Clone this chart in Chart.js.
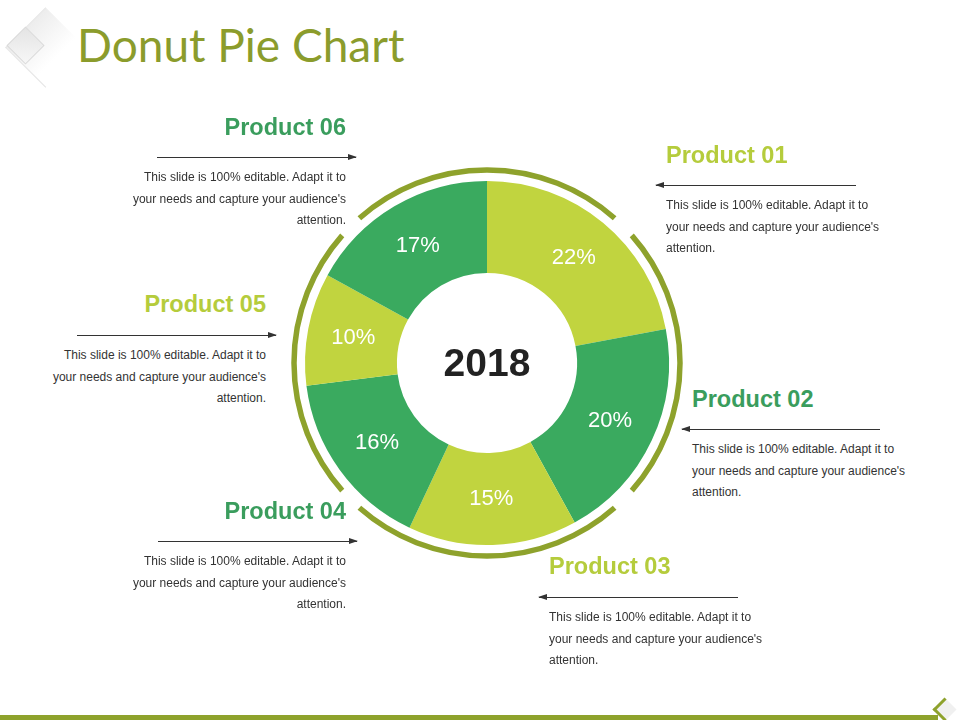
<!DOCTYPE html>
<html>
<head>
<meta charset="utf-8">
<script src="https://cdn.jsdelivr.net/npm/chart.js@4.4.1/dist/chart.umd.min.js"></script>
<style>
  html, body { margin: 0; padding: 0; background: #fff; }
  #page { position: relative; width: 960px; height: 720px; overflow: hidden; font-family: "Liberation Sans", Arial, sans-serif; }
  #title { position: absolute; left: 77px; top: 17px; font-family: "Lato", sans-serif; font-size: 46px; color: #8b9c2c; letter-spacing: 0px; }
  #chartBox { position: absolute; left: 287px; top: 163px; width: 400px; height: 400px; }
  .item { position: absolute; width: 240px; }
  .item h2 { margin: 0; font-size: 23.5px; font-weight: bold; line-height: 26px; }
  .item p { margin: 0; font-size: 12px; line-height: 21.5px; color: #333; }
  .item.left { text-align: right; }
  .item.right { text-align: left; }
  .arrow { position: absolute; height: 1px; background: #333; }
  .arrow::after { content: ""; position: absolute; top: -3px; border-top: 3.5px solid transparent; border-bottom: 3.5px solid transparent; }
  .arrow.toRight::after { right: -1px; border-left: 9px solid #333; }
  .arrow.toLeft::after { left: -1px; border-right: 9px solid #333; }
  .deco1 { position: absolute; left: 17px; top: 19px; width: 56px; height: 56px; transform: rotate(45deg); background: linear-gradient(90deg, #ededed, #ffffff 75%); border-left: 1px solid #e4e4e4; border-bottom: 1px solid #e4e4e4; }
  .deco2 { position: absolute; left: 12px; top: 32px; width: 25px; height: 25px; transform: rotate(45deg); background: linear-gradient(135deg, #e4e4e4, #f7f7f7); border: 1px solid #dadada; }
  .bottomBar { position: absolute; left: 0; top: 715px; width: 938px; height: 5px; background: #8ea22c; }
  .cornerIcon { position: absolute; left: 936px; top: 701px; width: 14px; height: 14px; transform: rotate(45deg); background: #f0f0f0; border-left: 3px solid #8ea22c; border-bottom: 3px solid #8ea22c; }
</style>
</head>
<body>
<div id="page">
  <div class="deco1"></div>
  <div class="deco2"></div>
  <div id="title">Donut Pie Chart</div>
  <div id="chartBox"><canvas id="donutChart"></canvas></div>
  <div class="bottomBar"></div>
  <div class="cornerIcon"></div>
</div>
<script>
const products = ["Product 01", "Product 02", "Product 03", "Product 04", "Product 05", "Product 06"];
const shares = [22, 20, 15, 16, 10, 17];
const centerLabel = "2018";
const blurb = "This slide is 100% editable. Adapt it to<br>your needs and capture your audience's<br>attention.";

const lightGreen = "#c1d43f";
const darkGreen = "#3aaa5f";
const ringColor = "#8ea22c";
const sliceColors = products.map((p, i) => i % 2 === 0 ? lightGreen : darkGreen);
const titleColors = ["#b5cc3c", "#3a9d5d", "#b5cc3c", "#3a9d5d", "#b5cc3c", "#3a9d5d"];

// where each product's text block sits on the slide
const blocks = [
    { side: "right", x: 666, y: 142, arrowY: 185, arrowX1: 656, arrowX2: 856 },
    { side: "right", x: 692, y: 386, arrowY: 429, arrowX1: 682, arrowX2: 880 },
    { side: "right", x: 549, y: 553, arrowY: 597, arrowX1: 539, arrowX2: 738 },
    { side: "left",  x: 346, y: 498, arrowY: 541, arrowX1: 158, arrowX2: 357 },
    { side: "left",  x: 266, y: 291, arrowY: 335, arrowX1: 77,  arrowX2: 276 },
    { side: "left",  x: 346, y: 114, arrowY: 157, arrowX1: 157, arrowX2: 356 }
];

const page = document.getElementById("page");
products.forEach((name, i) => {
    const b = blocks[i];
    const div = document.createElement("div");
    div.className = "item " + b.side;
    div.style.top = b.y + "px";
    div.style.left = (b.side === "left" ? b.x - 240 : b.x) + "px";
    div.innerHTML = '<h2 style="color:' + titleColors[i] + '">' + name + '</h2>' +
        '<p style="margin-top:' + (b.arrowY - b.y - 26 + 10) + 'px">' + blurb + '</p>';
    page.appendChild(div);

    const arrow = document.createElement("div");
    arrow.className = "arrow " + (b.side === "left" ? "toRight" : "toLeft");
    arrow.style.left = b.arrowX1 + "px";
    arrow.style.top = b.arrowY + "px";
    arrow.style.width = (b.arrowX2 - b.arrowX1) + "px";
    page.appendChild(arrow);
});

// outer broken ring + labels inside slices + year in the hole
const donutDecor = {
    id: "donutDecor",
    afterDatasetsDraw(chart) {
        const ctx = chart.ctx;
        const meta = chart.getDatasetMeta(0);
        const first = meta.data[0];
        const cx = first.x, cy = first.y;
        const r = first.outerRadius + 11;

        ctx.save();
        ctx.strokeStyle = ringColor;
        ctx.lineWidth = 5.5;
        const gap = 3.6 * Math.PI / 180;
        for (let k = 0; k < 4; k++) {
            const a0 = -Math.PI / 2 + Math.PI / 4 + k * Math.PI / 2 + gap;
            const a1 = a0 + Math.PI / 2 - 2 * gap;
            ctx.beginPath();
            ctx.arc(cx, cy, r, a0, a1);
            ctx.stroke();
        }

        ctx.fillStyle = "#ffffff";
        ctx.font = "22px 'Liberation Sans', Arial, sans-serif";
        ctx.textAlign = "center";
        ctx.textBaseline = "middle";
        meta.data.forEach((arc, i) => {
            const pos = arc.getCenterPoint();
            ctx.fillText(shares[i] + "%", pos.x, pos.y);
        });

        ctx.fillStyle = "#222222";
        ctx.font = "bold 39px 'Liberation Sans', Arial, sans-serif";
        ctx.fillText(centerLabel, cx, cy + 2);
        ctx.restore();
    }
};

new Chart(document.getElementById("donutChart"), {
    type: "doughnut",
    data: {
        labels: products,
        datasets: [{
            data: shares,
            backgroundColor: sliceColors,
            borderWidth: 0
        }]
    },
    options: {
        responsive: true,
        maintainAspectRatio: false,
        animation: false,
        cutout: "49.5%",
        layout: { padding: 18 },
        plugins: {
            legend: { display: false },
            tooltip: { enabled: false }
        }
    },
    plugins: [donutDecor]
});
</script>
</body>
</html>
